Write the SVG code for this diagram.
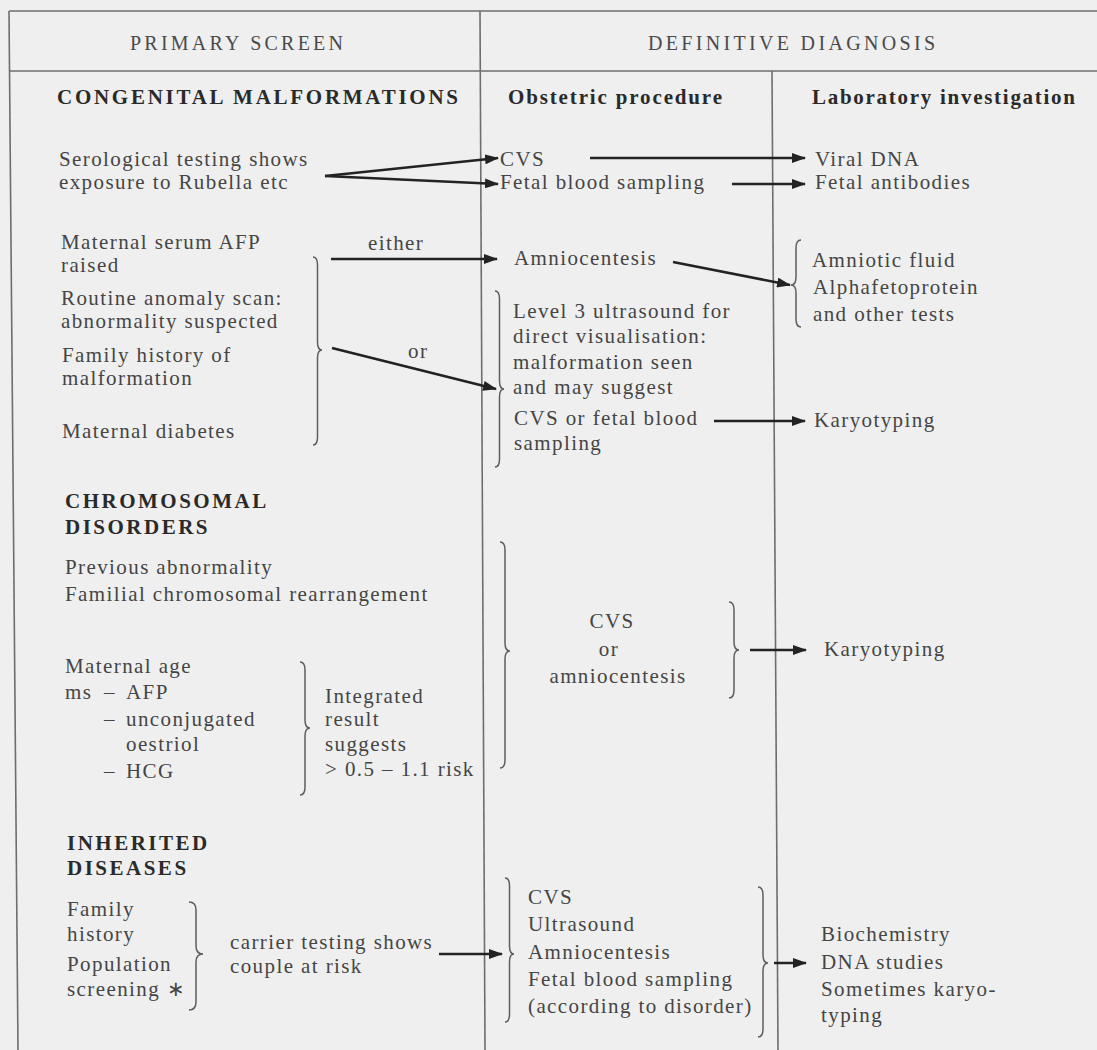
<svg xmlns="http://www.w3.org/2000/svg" width="1097" height="1050" viewBox="0 0 1097 1050">
<defs>
<style>
.t{font-family:"Liberation Serif","Times New Roman",serif;font-size:21px;letter-spacing:1.4px;fill:#454545}
.b{font-weight:bold;fill:#2a2a2a;letter-spacing:2.5px}
.hd{font-size:20px;letter-spacing:0;fill:#4a4a4a}
.ch{font-weight:bold;fill:#2a2a2a;letter-spacing:0}
.mid{text-anchor:middle}
.ln{stroke:#6e6e6e;stroke-width:1.6;fill:none}
.br{stroke:#5e5e5e;stroke-width:1.5;fill:none}
.ar{stroke:#232323;stroke-width:2.5;fill:none;marker-end:url(#ah)}
</style>
<marker id="ah" markerWidth="14" markerHeight="10" refX="13" refY="5" orient="auto" markerUnits="userSpaceOnUse">
<path d="M0,0 L14,5 L0,10 Z" fill="#232323"/>
</marker>
</defs>
<rect x="0" y="0" width="1097" height="1050" fill="#efefef"/>

<g id="frame">
<line class="ln" x1="9" y1="11" x2="1097" y2="11"/>
<line class="ln" x1="9" y1="11" x2="18" y2="1050"/>
<line class="ln" x1="9" y1="71" x2="1097" y2="71"/>
<line class="ln" x1="480" y1="11" x2="485" y2="1050"/>
<line class="ln" x1="772" y1="71" x2="778" y2="1050"/>
</g>

<g id="headers">
<text class="t hd" x="130" y="50" textLength="213" lengthAdjust="spacing">PRIMARY SCREEN</text>
<text class="t hd" x="648" y="50" textLength="287" lengthAdjust="spacing">DEFINITIVE DIAGNOSIS</text>
<text class="t ch" x="57" y="104" textLength="401" lengthAdjust="spacing">CONGENITAL MALFORMATIONS</text>
<text class="t ch" x="508" y="104" textLength="214" lengthAdjust="spacing">Obstetric procedure</text>
<text class="t ch" x="812" y="104" textLength="263" lengthAdjust="spacing">Laboratory investigation</text>
</g>

<g id="connectors">
<line class="ar" x1="325" y1="176" x2="498" y2="158"/>
<line class="ar" x1="325" y1="176" x2="498" y2="184"/>
<line class="ar" x1="590" y1="158" x2="805" y2="158"/>
<line class="ar" x1="732" y1="184" x2="805" y2="184"/>
<line class="ar" x1="331" y1="259" x2="497" y2="259"/>
<line class="ar" x1="673" y1="262" x2="790" y2="285"/>
<line class="ar" x1="332" y1="348" x2="496" y2="389"/>
<line class="ar" x1="714" y1="421" x2="805" y2="421"/>
<line class="ar" x1="750" y1="650" x2="806" y2="650"/>
<line class="ar" x1="439" y1="954" x2="502" y2="954"/>
<line class="ar" x1="774" y1="963" x2="806" y2="963"/>
</g>

<g id="braces">
<path class="br" d="M313 257 Q317.5 257 317.5 265 L317.5 342 Q317.5 350 322 350 Q317.5 350 317.5 358 L317.5 437 Q317.5 445 313 445"/>
<path class="br" d="M495 291 Q499.5 291 499.5 299 L499.5 381 Q499.5 389 504 389 Q499.5 389 499.5 397 L499.5 459 Q499.5 467 495 467"/>
<path class="br" d="M801 240 Q796 240 796 248 L796 277 Q796 285 791 285 Q796 285 796 293 L796 319 Q796 327 801 327"/>
<path class="br" d="M500 542 Q505 542 505 550 L505 643 Q505 651 510 651 Q505 651 505 659 L505 760 Q505 768 500 768"/>
<path class="br" d="M300 662 Q305 662 305 670 L305 720 Q305 728 310 728 Q305 728 305 736 L305 787 Q305 795 300 795"/>
<path class="br" d="M729 602 Q734 602 734 610 L734 642 Q734 650 739 650 Q734 650 734 658 L734 690 Q734 698 729 698"/>
<path class="br" d="M189 902 Q196 902 196 910 L196 946 Q196 954 203 954 Q196 954 196 962 L196 1002 Q196 1010 189 1010"/>
<path class="br" d="M505 878 Q509.5 878 509.5 886 L509.5 946 Q509.5 954 514 954 Q509.5 954 509.5 962 L509.5 1014 Q509.5 1022 505 1022"/>
<path class="br" d="M758 887 Q763 887 763 895 L763 955 Q763 963 768 963 Q763 963 763 971 L763 1029 Q763 1037 758 1037"/>
</g>

<g id="n-serology">
<text class="t" x="59" y="166">Serological testing shows</text>
<text class="t" x="59" y="189">exposure to Rubella etc</text>
</g>
<g id="n-cvs1"><text class="t" x="500" y="166">CVS</text></g>
<g id="n-fbs1"><text class="t" x="500" y="189">Fetal blood sampling</text></g>
<g id="n-viral"><text class="t" x="815" y="166">Viral DNA</text></g>
<g id="n-fetalab"><text class="t" x="815" y="189">Fetal antibodies</text></g>

<g id="n-cm-screens">
<text class="t" x="61" y="249">Maternal serum AFP</text>
<text class="t" x="61" y="272">raised</text>
<text class="t" x="61" y="305">Routine anomaly scan:</text>
<text class="t" x="61" y="328">abnormality suspected</text>
<text class="t" x="62" y="362">Family history of</text>
<text class="t" x="62" y="385">malformation</text>
<text class="t" x="62" y="438">Maternal diabetes</text>
</g>
<g id="lbl-either"><text class="t" x="368" y="250">either</text></g>
<g id="lbl-or"><text class="t" x="408" y="358">or</text></g>
<g id="n-amnio1"><text class="t" x="514" y="265">Amniocentesis</text></g>
<g id="n-amniotic">
<text class="t" x="812" y="267">Amniotic fluid</text>
<text class="t" x="813" y="294">Alphafetoprotein</text>
<text class="t" x="813" y="321">and other tests</text>
</g>
<g id="n-level3">
<text class="t" x="513" y="318">Level 3 ultrasound for</text>
<text class="t" x="513" y="343">direct visualisation:</text>
<text class="t" x="513" y="369">malformation seen</text>
<text class="t" x="513" y="394">and may suggest</text>
<text class="t" x="514" y="425">CVS or fetal blood</text>
<text class="t" x="514" y="450">sampling</text>
</g>
<g id="n-karyo1"><text class="t" x="814" y="427">Karyotyping</text></g>

<g id="n-chromo">
<text class="t b" x="65" y="508">CHROMOSOMAL</text>
<text class="t b" x="65" y="534">DISORDERS</text>
<text class="t" x="65" y="574">Previous abnormality</text>
<text class="t" x="65" y="601">Familial chromosomal rearrangement</text>
<text class="t" x="65" y="673">Maternal age</text>
<text class="t" x="65" y="699">ms</text>
<text class="t" x="104" y="699">–</text>
<text class="t" x="126" y="699">AFP</text>
<text class="t" x="104" y="726">–</text>
<text class="t" x="126" y="726">unconjugated</text>
<text class="t" x="126" y="751">oestriol</text>
<text class="t" x="104" y="778">–</text>
<text class="t" x="126" y="778">HCG</text>
</g>
<g id="n-integrated">
<text class="t" x="325" y="703">Integrated</text>
<text class="t" x="325" y="726">result</text>
<text class="t" x="325" y="751">suggests</text>
<text class="t" x="325" y="776">&gt; 0.5 – 1.1 risk</text>
</g>
<g id="n-cvsamnio">
<text class="t mid" x="612" y="628">CVS</text>
<text class="t mid" x="609" y="656">or</text>
<text class="t mid" x="618" y="683">amniocentesis</text>
</g>
<g id="n-karyo2"><text class="t" x="824" y="656">Karyotyping</text></g>

<g id="n-inherited">
<text class="t b" x="67" y="850">INHERITED</text>
<text class="t b" x="67" y="875">DISEASES</text>
<text class="t" x="67" y="916">Family</text>
<text class="t" x="67" y="941">history</text>
<text class="t" x="67" y="971">Population</text>
<text class="t" x="67" y="996">screening ∗</text>
</g>
<g id="n-carrier">
<text class="t" x="230" y="949">carrier testing shows</text>
<text class="t" x="230" y="973">couple at risk</text>
</g>
<g id="n-procs">
<text class="t" x="528" y="904">CVS</text>
<text class="t" x="528" y="931">Ultrasound</text>
<text class="t" x="528" y="959">Amniocentesis</text>
<text class="t" x="528" y="986">Fetal blood sampling</text>
<text class="t" x="528" y="1013">(according to disorder)</text>
</g>
<g id="n-labs">
<text class="t" x="821" y="941">Biochemistry</text>
<text class="t" x="821" y="969">DNA studies</text>
<text class="t" x="821" y="996">Sometimes karyo-</text>
<text class="t" x="821" y="1022">typing</text>
</g>
</svg>
